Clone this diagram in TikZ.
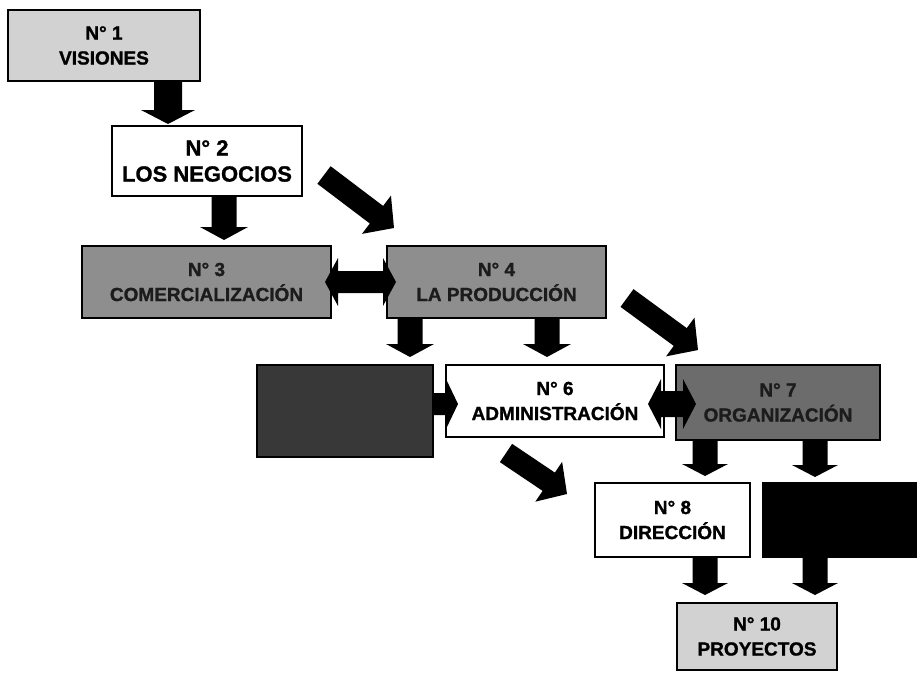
\documentclass[tikz,border=0pt]{standalone}
\usepackage{fontspec}
\setmainfont{Liberation Sans}[BoldFeatures={FakeBold=1.2}]
\usetikzlibrary{calc}
\definecolor{lightg}{HTML}{D2D2D2}
\definecolor{midg}{HTML}{8E8E8E}
\definecolor{darkg}{HTML}{6C6C6C}
\definecolor{vdarkg}{HTML}{383838}
\definecolor{txtdark}{HTML}{1C1C1C}
\tikzset{
  box/.style={draw=black, line width=1.5pt, inner sep=0pt, outer sep=0pt, anchor=north west,
    align=center, font=\fontsize{19}{25}\selectfont\bfseries},
  bigtext/.style={font=\fontsize{22}{26}\selectfont\bfseries},
  arrfill/.style={fill=black},
}
\newcommand\blockarr[5]{%
  \coordinate (bah) at ($(#2)!#5!(#1)$);
  \fill[arrfill] ($(#1)!#3!90:(#2)$) -- ($(bah)!#3!90:(#2)$) -- ($(bah)!#4!90:(#2)$) -- (#2)
    -- ($(bah)!#4!-90:(#2)$) -- ($(bah)!#3!-90:(#2)$) -- ($(#1)!#3!-90:(#2)$) -- cycle;}
\newcommand\dblarr[5]{%
  \coordinate (dha) at ($(#1)!#5!(#2)$);
  \coordinate (dhb) at ($(#2)!#5!(#1)$);
  \fill[arrfill] (#1) -- ($(dha)!#4!90:(#2)$) -- ($(dha)!#3!90:(#2)$) -- ($(dhb)!#3!90:(#2)$)
    -- ($(dhb)!#4!90:(#2)$) -- (#2) -- ($(dhb)!#4!-90:(#2)$) -- ($(dhb)!#3!-90:(#2)$)
    -- ($(dha)!#3!-90:(#2)$) -- ($(dha)!#4!-90:(#2)$) -- cycle;}
\begin{document}
\begin{tikzpicture}[x=1pt, y=-1pt]
\useasboundingbox (0,0) rectangle (917,672);
\fill[white] (0,0) rectangle (917,672);
% boxes
\node[box, fill=lightg, minimum width=192pt, minimum height=71pt] (b1) at (8,10) {N° 1\\VISIONES};
\node[box, bigtext, fill=white, minimum width=190pt, minimum height=70pt] (b2) at (112,126) {N° 2\\LOS NEGOCIOS};
\node[box, fill=midg, text=txtdark, minimum width=249pt, minimum height=72pt] (b3) at (82,246) {N° 3\\COMERCIALIZACIÓN};
\node[box, fill=midg, text=txtdark, minimum width=219pt, minimum height=72pt] (b4) at (387,246) {N° 4\\LA PRODUCCIÓN};
\node[box, fill=vdarkg, minimum width=176pt, minimum height=92pt] (b5) at (257,365) {};
\node[box, fill=white, minimum width=218pt, minimum height=72pt] (b6) at (446,365) {N° 6\\ADMINISTRACIÓN};
\node[box, fill=darkg, text=txtdark, minimum width=204pt, minimum height=75pt] (b7) at (676,365) {N° 7\\ORGANIZACIÓN};
\node[box, fill=white, minimum width=155pt, minimum height=74pt] (b8) at (595,483) {N° 8\\DIRECCIÓN};
\node[box, fill=black, minimum width=170pt, minimum height=74pt] (b9) at (763,483) {};
\node[box, fill=lightg, minimum width=160pt, minimum height=67pt] (b10) at (677,603) {N° 10\\PROYECTOS};
% arrow end points
\coordinate (a12s) at ($(b1.south west)+(160,0)$);
\coordinate (a12e) at ($(b2.north west)+(56,-2)$);
\coordinate (a23s) at ($(b2.south west)+(112,0)$);
\coordinate (a23e) at ($(b3.north west)+(142,-6)$);
\coordinate (a24s) at ($(b2.north east)+(22,49)$);
\coordinate (a24e) at ($(b4.north west)+(7,-18)$);
\coordinate (a34s) at ($(b3.east)+(-6,0)$);
\coordinate (a34e) at ($(b4.west)+(9,0)$);
\coordinate (a45s) at ($(b4.south west)+(23,0)$);
\coordinate (a45e) at ($(b5.north east)+(-23,-8)$);
\coordinate (a46s) at ($(b4.south west)+(160,0)$);
\coordinate (a46e) at ($(b6.north west)+(101,-8)$);
\coordinate (a47s) at ($(b4.north east)+(21,52)$);
\coordinate (a47e) at ($(b7.north west)+(22,-15)$);
\coordinate (a56s) at ($(b5.north east)+(0,39)$);
\coordinate (a56e) at ($(b6.north west)+(12,39)$);
\coordinate (a67s) at ($(b6.north east)+(-16,39)$);
\coordinate (a67e) at ($(b7.north west)+(20,39)$);
\coordinate (a68s) at ($(b6.south west)+(60,16)$);
\coordinate (a68e) at ($(b8.north west)+(-28,11)$);
\coordinate (a78s) at ($(b7.south west)+(29,0)$);
\coordinate (a78e) at ($(b8.north west)+(110,-7)$);
\coordinate (a79s) at ($(b7.south west)+(139,0)$);
\coordinate (a79e) at ($(b9.north west)+(52,-6)$);
\coordinate (a810s) at ($(b8.south west)+(110,0)$);
\coordinate (a810e) at ($(b10.north west)+(28,-8)$);
\coordinate (a910s) at ($(b9.south west)+(52,0)$);
\coordinate (a910e) at ($(b10.north west)+(138,-8)$);
% arrows
\blockarr{a12s}{a12e}{14pt}{27pt}{14pt}
\blockarr{a23s}{a23e}{12.5pt}{24pt}{13pt}
\blockarr{a24s}{a24e}{11pt}{24pt}{22pt}
\dblarr{a34s}{a34e}{11pt}{24pt}{13pt}
\blockarr{a45s}{a45e}{12.5pt}{24pt}{13pt}
\blockarr{a46s}{a46e}{12.5pt}{24pt}{13pt}
\blockarr{a47s}{a47e}{11pt}{24pt}{22pt}
\blockarr{a56s}{a56e}{11pt}{25pt}{12pt}
\dblarr{a67s}{a67e}{13pt}{25pt}{13pt}
\blockarr{a68s}{a68e}{11pt}{24pt}{22pt}
\blockarr{a78s}{a78e}{12.5pt}{23pt}{12pt}
\blockarr{a79s}{a79e}{12.5pt}{23pt}{12pt}
\blockarr{a810s}{a810e}{12.5pt}{23pt}{12pt}
\blockarr{a910s}{a910e}{12.5pt}{23pt}{12pt}
\end{tikzpicture}
\end{document}
